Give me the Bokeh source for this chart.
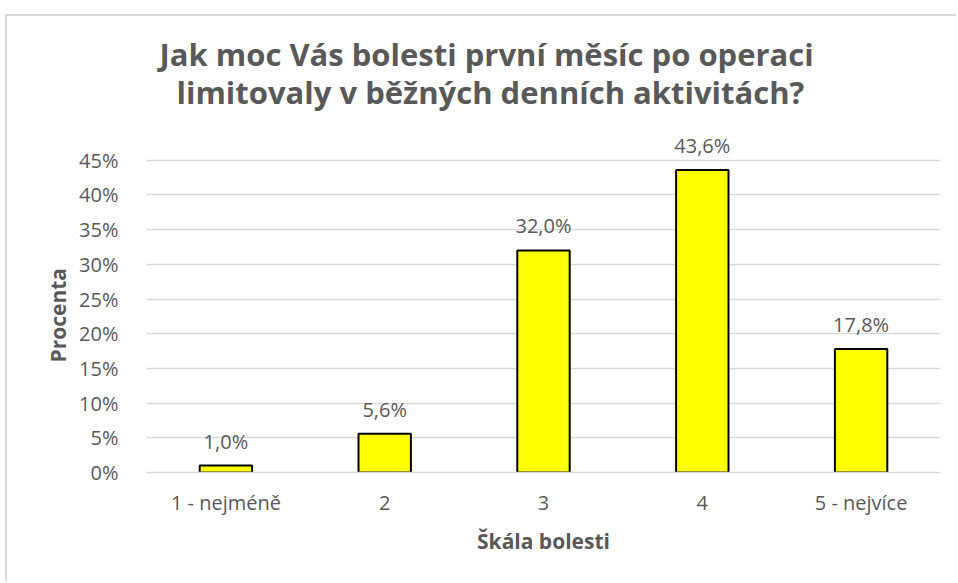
from bokeh.plotting import figure
from bokeh.models import (ColumnDataSource, LabelSet, Title, FactorRange, Range1d,
                          FixedTicker)
from bokeh.core.properties import value
from bokeh.embed import file_html
from bokeh.resources import INLINE

categories = ["1 - nejméně", "2", "3", "4", "5 - nejvíce"]
values = [1.0, 5.6, 32.0, 43.6, 17.8]
value_labels = ["1,0%", "5,6%", "32,0%", "43,6%", "17,8%"]
y_ticks = [0, 5, 10, 15, 20, 25, 30, 35, 40, 45]
y_tick_labels = ["0%", "5%", "10%", "15%", "20%", "25%", "30%", "35%", "40%", "45%"]
title_lines = ["Jak moc Vás bolesti první měsíc po operaci",
               "limitovaly v běžných denních aktivitách?"]
x_title = "Škála bolesti"
y_title = "Procenta"

TEXT = "#595959"
GRID = "#d9d9d9"
FONT = "Open Sans"

src = ColumnDataSource(dict(x=categories, top=values, lab=value_labels))

p = figure(width=951, height=567, output_backend="svg", toolbar_location=None,
           x_range=FactorRange(*categories, range_padding=0),
           y_range=Range1d(0, 49), title_location=None,
           min_border_left=139, min_border_right=18, min_border_top=116,
           min_border_bottom=111)
p.styles = {"position": "relative", "left": "7px", "top": "16px",
            "box-shadow": "-2px -2px 0px 0px #d9d9d9"}
p.outline_line_color = None
p.background_fill_color = "white"
p.border_fill_color = "white"

p.vbar(x="x", top="top", width=0.33, source=src, fill_color="#ffff00",
       line_color="black", line_width=2)

labels = LabelSet(x="x", y="top", text="lab", source=src, text_align="center",
                  text_baseline="alphabetic", y_offset=17, text_color=TEXT,
                  text_font=value(FONT), text_font_size="20px")
p.add_layout(labels)

t2 = Title(text=title_lines[1], align="left", offset=30, text_font=FONT,
           text_font_size="31px", text_font_style="bold", text_color=TEXT, standoff=39)
t1 = Title(text=title_lines[0], align="left", offset=13, text_font=FONT,
           text_font_size="31px", text_font_style="bold", text_color=TEXT, standoff=-50)
p.add_layout(t2, "above")
p.add_layout(t1, "above")

p.xgrid.grid_line_color = None
p.ygrid.grid_line_color = GRID
p.ygrid.grid_line_width = 1.5

p.yaxis.ticker = FixedTicker(ticks=y_ticks)
p.yaxis.major_label_overrides = {t: l for t, l in zip(y_ticks, y_tick_labels)}
p.yaxis.axis_line_color = None
p.yaxis.major_tick_line_color = None
p.yaxis.minor_tick_line_color = None
p.yaxis.major_label_standoff = 22
p.yaxis.major_label_text_font = FONT
p.yaxis.major_label_text_font_size = "20px"
p.yaxis.major_label_text_color = TEXT

ytitle = Title(text=y_title, align="left", offset=110, text_font=FONT,
               text_font_size="21px", text_font_style="bold", text_color=TEXT,
               standoff=10)
p.add_layout(ytitle, "left")

p.xaxis.axis_line_color = GRID
p.xaxis.axis_line_width = 1.5
p.xaxis.major_tick_line_color = None
p.xaxis.minor_tick_line_color = None
p.xaxis.major_label_standoff = 10
p.xaxis.major_label_text_font = FONT
p.xaxis.major_label_text_font_size = "20px"
p.xaxis.major_label_text_color = TEXT
p.xaxis.axis_label = x_title
p.xaxis.axis_label_text_font = FONT
p.xaxis.axis_label_text_font_style = "bold"
p.xaxis.axis_label_text_font_size = "21px"
p.xaxis.axis_label_text_color = TEXT
p.xaxis.axis_label_standoff = 8

open("out.html", "w").write(file_html(p, INLINE))
